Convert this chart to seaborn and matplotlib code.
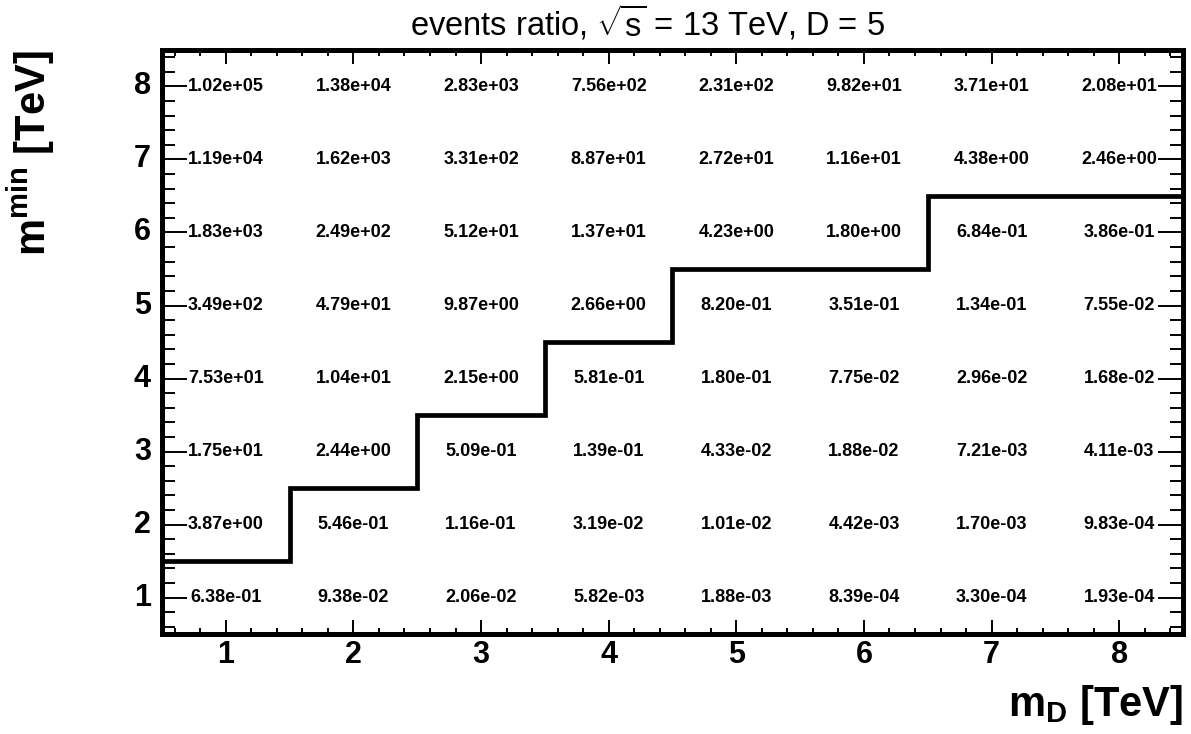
import numpy as np
import pandas as pd
import matplotlib
matplotlib.use("Agg")
import matplotlib.pyplot as plt
from matplotlib.colors import ListedColormap
from matplotlib.ticker import FixedLocator
import seaborn as sns

# Fundamental Planck scale m_D and minimum black-hole mass m_min (TeV)
m_D = [1, 2, 3, 4, 5, 6, 7, 8]
m_min = [1, 2, 3, 4, 5, 6, 7, 8]

# Event ratios, one list per m_min row (columns follow m_D)
ratio_mmin1 = [6.38e-01, 9.38e-02, 2.06e-02, 5.82e-03, 1.88e-03, 8.39e-04, 3.30e-04, 1.93e-04]
ratio_mmin2 = [3.87e+00, 5.46e-01, 1.16e-01, 3.19e-02, 1.01e-02, 4.42e-03, 1.70e-03, 9.83e-04]
ratio_mmin3 = [1.75e+01, 2.44e+00, 5.09e-01, 1.39e-01, 4.33e-02, 1.88e-02, 7.21e-03, 4.11e-03]
ratio_mmin4 = [7.53e+01, 1.04e+01, 2.15e+00, 5.81e-01, 1.80e-01, 7.75e-02, 2.96e-02, 1.68e-02]
ratio_mmin5 = [3.49e+02, 4.79e+01, 9.87e+00, 2.66e+00, 8.20e-01, 3.51e-01, 1.34e-01, 7.55e-02]
ratio_mmin6 = [1.83e+03, 2.49e+02, 5.12e+01, 1.37e+01, 4.23e+00, 1.80e+00, 6.84e-01, 3.86e-01]
ratio_mmin7 = [1.19e+04, 1.62e+03, 3.31e+02, 8.87e+01, 2.72e+01, 1.16e+01, 4.38e+00, 2.46e+00]
ratio_mmin8 = [1.02e+05, 1.38e+04, 2.83e+03, 7.56e+02, 2.31e+02, 9.82e+01, 3.71e+01, 2.08e+01]

# Lower validity boundary in m_min for each m_D column (TeV)
mmin_boundary = [1.5, 2.5, 3.5, 4.5, 5.5, 5.5, 6.5, 6.5]

sns.set_theme(style="white")
plt.rcParams["font.family"] = ["Liberation Sans", "DejaVu Sans"]
plt.rcParams["mathtext.fontset"] = "custom"
plt.rcParams["mathtext.rm"] = "Liberation Sans"
plt.rcParams["mathtext.it"] = "Liberation Sans:italic"
plt.rcParams["mathtext.bf"] = "Liberation Sans:bold"
plt.rcParams["text.color"] = "black"
plt.rcParams["xtick.labelcolor"] = "black"
plt.rcParams["ytick.labelcolor"] = "black"

table = pd.DataFrame(
    [ratio_mmin1, ratio_mmin2, ratio_mmin3, ratio_mmin4,
     ratio_mmin5, ratio_mmin6, ratio_mmin7, ratio_mmin8],
    index=m_min, columns=m_D,
)

fig = plt.figure(figsize=(11.91, 7.34), dpi=100)
ax = fig.add_axes([0.136, 0.1362, 0.8573, 0.7957])

sns.heatmap(
    table, ax=ax, cmap=ListedColormap(["white"]), cbar=False,
    annot=True, fmt=".2e",
    annot_kws={"fontsize": 13, "fontweight": "bold", "color": "black"},
)
ax.invert_yaxis()  # m_min grows upward
ax.set_axisbelow(False)  # keep ticks above the white cells

# Heatmap cells sit at [i, i+1]; a value v maps to v - 0.5
x_edges = np.append(np.array(m_D) - 0.5, m_D[-1] + 0.5) - 0.5
ax.stairs(np.array(mmin_boundary) - 0.5, edges=x_edges, baseline=None,
          color="black", linewidth=3.4, joinstyle="miter", zorder=3)

# Axis frame and ticks
for sp in ax.spines.values():
    sp.set_visible(True)
    sp.set_color("black")
    sp.set_linewidth(3.6)
    sp.set_zorder(5)

ax.set_xticks(np.array(m_D) - 0.5, labels=[str(v) for v in m_D])
ax.set_yticks(np.array(m_min) - 0.5, labels=[str(v) for v in m_min])
ax.xaxis.set_minor_locator(FixedLocator(np.arange(0.1, 8.0, 0.2)))
ax.yaxis.set_minor_locator(FixedLocator(np.arange(0.1, 8.0, 0.2)))
for lab in ax.get_xticklabels() + ax.get_yticklabels():
    lab.set_rotation(0)
    lab.set_fontweight("bold")
    lab.set_fontsize(22)
    lab.set_color("black")

ax.tick_params(which="both", direction="in", top=True, right=True,
               bottom=True, left=True, color="black", width=1.4)
ax.tick_params(axis="x", which="major", length=10, pad=4)
ax.tick_params(axis="x", which="minor", length=4.5)
ax.tick_params(axis="y", which="major", length=18, pad=8)
ax.tick_params(axis="y", which="minor", length=9.5)
ax.set_xlabel("")
ax.set_ylabel("")

# Titles
fig.text(647 / 1191, 1 - 35 / 734,
         r"events ratio, $\sqrt{\mathrm{s}}$ = 13 TeV, D = 5",
         ha="center", va="baseline", fontsize=23.5, color="black")
fig.text(1183 / 1191, 1 - 716 / 734, r"$\mathbf{m}_{\mathbf{D}}$ [TeV]",
         ha="right", va="baseline", fontsize=30, fontweight="bold")
fig.text(31 / 1191, 1 - 50 / 734, r"$\mathbf{m}^{\mathbf{min}}$ [TeV]",
         ha="center", va="top", rotation=90, fontsize=30, fontweight="bold")

fig.savefig("out.png", dpi=100, facecolor="white")
